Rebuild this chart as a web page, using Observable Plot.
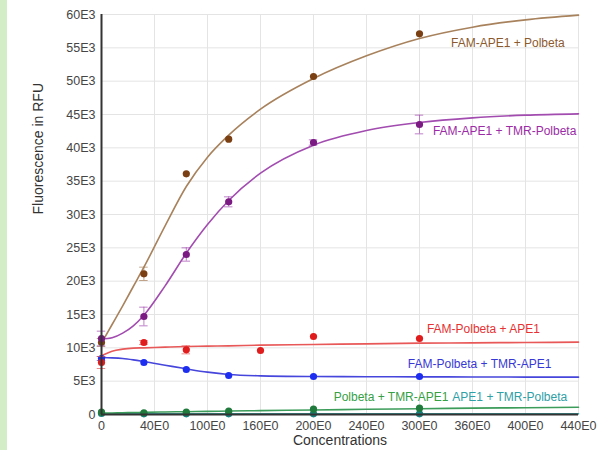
<!DOCTYPE html>
<html><head><meta charset="utf-8">
<script src="https://cdn.jsdelivr.net/npm/d3@7"></script>
<script src="https://cdn.jsdelivr.net/npm/@observablehq/plot@0.6"></script>
<style>
body{margin:0;background:#fff;}
#strip{position:absolute;left:0;top:0;width:7px;height:450px;background:#d3edc6;}
#chart{position:absolute;left:0;top:0;}
</style></head><body><div id="strip"></div><div id="chart"></div>
<script>
// Series names
const seriesNames = ["FAM-APE1 + Polbeta", "FAM-APE1 + TMR-Polbeta", "FAM-Polbeta + APE1", "FAM-Polbeta + TMR-APE1", "Polbeta + TMR-APE1", "APE1 + TMR-Polbeta"];

// Measured points (concentration, RFU, error)
const xMain = [0, 40, 80, 120, 200, 300];
const xRed = [0, 40, 80, 150, 200, 300];
const brownY = [10800, 21100, 36100, 41300, 50700, 57100];
const brownErr = [600, 1000, 0, 0, 0, 0];
const purpleY = [11400, 14700, 24000, 31900, 40800, 43500];
const purpleErr = [1100, 1400, 1000, 750, 400, 1400];
const redY = [7800, 10800, 9700, 9600, 11700, 11400];
const redErr = [900, 300, 600, 0, 0, 0];
const blueY = [8400, 7800, 6750, 5850, 5700, 5700];
const blueErr = [300, 0, 0, 0, 0, 0];
const greenY = [350, 250, 350, 500, 800, 950];
const tealY = [150, 100, 100, 100, 100, 100];

// Fitted curves
const fitX = [0, 10, 20, 30, 40, 60, 80, 100, 120, 150, 200, 250, 300, 350, 400, 450];
const brownFit = [10700, 13500, 16300, 19200, 22100, 28300, 34200, 38600, 41900, 45800, 50400, 53800, 56400, 58100, 59200, 59900];
const purpleFit = [11300, 11500, 12200, 13300, 14900, 19300, 24200, 28500, 32100, 36200, 40400, 42600, 43800, 44500, 44900, 45100];
const redFit = [8800, 9500, 9800, 9950, 10000, 10100, 10200, 10250, 10300, 10400, 10500, 10600, 10700, 10750, 10800, 10850];
const blueFit = [8550, 8500, 8400, 8200, 7950, 7400, 6850, 6350, 6000, 5800, 5700, 5670, 5650, 5630, 5610, 5600];
const greenFit = [200, 230, 260, 290, 320, 380, 420, 470, 520, 580, 680, 780, 870, 950, 1020, 1080];
const tealFit = [100, 100, 100, 100, 100, 100, 100, 100, 100, 100, 100, 100, 100, 100, 100, 100];

// Label anchors (data units)
const labelX = [437, 448, 307, 289, 219, 331];
const labelY = [55700, 42500, 12800, 7500, 2550, 2550];
const labelAnchor = ["end", "end", "start", "start", "start", "start"];

// Axis ticks
const xTicks = [0, 50, 100, 150, 200, 250, 300, 350, 400, 450];
const xTickLabels = ["0", "40E0", "100E0", "160E0", "200E0", "240E0", "300E0", "360E0", "400E0", "440E0"];
const yTicks = [0, 5000, 10000, 15000, 20000, 25000, 30000, 35000, 40000, 45000, 50000, 55000, 60000];
const yTickLabels = ["0", "5E3", "10E3", "15E3", "20E3", "25E3", "30E3", "35E3", "40E3", "45E3", "50E3", "55E3", "60E3"];

const lineColors = ["#a8825c", "#a24cb0", "#e85858", "#4646dc", "#3c9c5a", "#3aa2a2"];
const pointColors = ["#7a3f12", "#7a1a82", "#e01c1c", "#1e2ef0", "#1f7a3c", "#17807e"];
const labelColors = ["#8b5a2e", "#9b2ca6", "#e63232", "#3838d6", "#36a046", "#2ea0a6"];

const ys = [brownY, purpleY, redY, blueY, greenY, tealY];
const xs = [xMain, xMain, xRed, xMain, xMain, xMain];
const errs = [brownErr, purpleErr, redErr, blueErr, [0,0,0,0,0,0], [0,0,0,0,0,0]];
const fits = [brownFit, purpleFit, redFit, blueFit, greenFit, tealFit];

const points = [], curves = [], labels = [];
seriesNames.forEach((s, k) => {
  ys[k].forEach((v, i) => points.push({s, k, x: xs[k][i], y: v, e: errs[k][i]}));
  fits[k].forEach((v, i) => curves.push({s, k, x: fitX[i], y: v}));
  labels.push({s, k, x: labelX[k], y: labelY[k], a: labelAnchor[k]});
});
const errPts = points.filter(d => d.e > 0);
const order = [5, 4, 3, 2, 0, 1];

const marks = [
  Plot.gridX(xTicks, {stroke: "#e4e4e4", strokeOpacity: 1}),
  Plot.gridY(yTicks, {stroke: "#e4e4e4", strokeOpacity: 1}),
  Plot.axisX({ticks: xTicks, tickSize: 0, tickPadding: 7, tickFormat: d => xTickLabels[xTicks.indexOf(d)], fill: "#454545", fontSize: 12.5, label: null}),
  Plot.axisY({ticks: yTicks, tickSize: 0, tickPadding: 6, tickFormat: d => yTickLabels[yTicks.indexOf(d)], fill: "#454545", fontSize: 12.5, label: null}),
];
for (const k of order) {
  marks.push(Plot.line(curves.filter(d => d.k === k), {x: "x", y: "y", curve: "monotone-x", stroke: lineColors[k], strokeWidth: 1.6}));
}
for (const k of order) {
  const ep = errPts.filter(d => d.k === k);
  marks.push(
    Plot.ruleX(ep, {x: "x", y1: d => d.y - d.e, y2: d => d.y + d.e, stroke: lineColors[k], strokeOpacity: 0.7, strokeWidth: 1}),
    Plot.ruleY(ep, {y: d => d.y + d.e, x1: d => d.x - 4, x2: d => d.x + 4, stroke: lineColors[k], strokeOpacity: 0.7, strokeWidth: 1}),
    Plot.ruleY(ep, {y: d => d.y - d.e, x1: d => d.x - 4, x2: d => d.x + 4, stroke: lineColors[k], strokeOpacity: 0.7, strokeWidth: 1}),
    Plot.dot(points.filter(d => d.k === k), {x: "x", y: "y", r: 3.6, fill: pointColors[k], stroke: "none"})
  );
}
marks.push(
  Plot.ruleX([0], {stroke: "#333", strokeWidth: 2}),
  Plot.ruleY([0], {stroke: "#333", strokeWidth: 2}),
  Plot.text(labels.filter(d => d.a === "end"), {x: "x", y: "y", text: "s", textAnchor: "end", fill: d => labelColors[d.k], fontSize: 12}),
  Plot.text(labels.filter(d => d.a === "start"), {x: "x", y: "y", text: "s", textAnchor: "start", fill: d => labelColors[d.k], fontSize: 12}),
  Plot.text(["Fluorescence in RFU"], {frameAnchor: "left", rotate: -90, dx: -63, fontSize: 14, fill: "#333"}),
  Plot.text(["Concentrations"], {frameAnchor: "bottom", lineAnchor: "middle", dy: 26, fontSize: 14, fill: "#333"})
);

const chart = Plot.plot({
  width: 612,
  height: 450,
  marginLeft: 101,
  marginRight: 34,
  marginTop: 14,
  marginBottom: 36,
  x: {domain: [0, 450]},
  y: {domain: [0, 60000]},
  style: {fontFamily: "'Liberation Sans', Arial, sans-serif", fontSize: "12.5px", background: "transparent", overflow: "visible"},
  marks
});
document.getElementById("chart").appendChild(chart);
</script>
</body></html>
